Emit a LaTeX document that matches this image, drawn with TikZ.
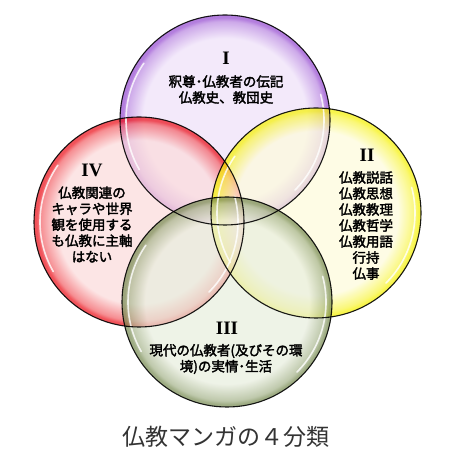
\documentclass[tikz,border=0pt]{standalone}
\usepackage{fontspec}
\newfontfamily\cjkb[FakeBold=2.4]{Noto Sans CJK JP}
\newfontfamily\cjkl{Noto Sans CJK JP}
\newfontfamily\romb{Liberation Serif}[BoldFont={Liberation Serif Bold}]
\definecolor{ptint}{HTML}{EEE0F9}
\definecolor{pedge}{HTML}{9448D0}
\definecolor{rtint}{HTML}{FCDBDB}
\definecolor{redge}{HTML}{EC0A14}
\definecolor{ytint}{HTML}{FEFCDB}
\definecolor{yedge}{HTML}{F6F200}
\definecolor{gtint}{HTML}{E8EEDE}
\definecolor{gedge}{HTML}{768A50}
\definecolor{titlegray}{HTML}{333333}
\pgfdeclareradialshading{gpurple}{\pgfpoint{0bp}{0bp}}{color(0bp)=(ptint); color(19.5bp)=(ptint); color(23.5bp)=(pedge!60!ptint); color(24.4bp)=(pedge); color(50bp)=(pedge)}
\pgfdeclareradialshading{gred}{\pgfpoint{0bp}{0bp}}{color(0bp)=(rtint); color(19.5bp)=(rtint); color(23.5bp)=(redge!60!rtint); color(24.4bp)=(redge); color(50bp)=(redge)}
\pgfdeclareradialshading{gyellow}{\pgfpoint{0bp}{0bp}}{color(0bp)=(ytint); color(19.5bp)=(ytint); color(23.5bp)=(yedge!70!ytint); color(24.4bp)=(yedge); color(50bp)=(yedge)}
\pgfdeclareradialshading{ggreen}{\pgfpoint{0bp}{0bp}}{color(0bp)=(gtint); color(19.5bp)=(gtint); color(23.5bp)=(gedge!60!gtint); color(24.4bp)=(gedge); color(50bp)=(gedge)}
\tikzset{
  glossy/.style={fill opacity=0.7},
  rim/.style={draw=black, line width=1.1pt, draw opacity=0.9},
  shine/.style={draw=white, line width=1.6pt, draw opacity=0.8, line cap=round},
  numeral/.style={font=\romb\bfseries\fontsize{19}{19}\selectfont, inner sep=0pt},
  body/.style={font=\cjkb\fontsize{13.5}{16}\selectfont, align=center, inner sep=0pt},
  titletext/.style={font=\cjkl\fontsize{23}{23}\selectfont, text=titlegray, inner sep=0pt}
}
\begin{document}
\begin{tikzpicture}[x=1pt,y=1pt]
\useasboundingbox (0,0) rectangle (453,462);
\fill[white] (0,0) rectangle (453,462);
\coordinate (P) at (225,342);
\coordinate (R) at (139,240);
\coordinate (Y) at (316,249);
\coordinate (G) at (227,160);
% glossy discs
\shade[shading=gpurple, glossy] (P) circle (105);
\shade[shading=gred, glossy] (R) circle (105);
\shade[shading=gyellow, glossy] (Y) circle (105);
\shade[shading=ggreen, glossy] (G) circle (105);
% highlights
\foreach \c in {P,R,Y,G}{
  \draw[shine] ([shift={(145:99)}]\c) arc (145:210:99);
  \draw[shine] ([shift={(-45:99)}]\c) arc (-45:15:99);
}
% outlines
\draw[rim] (P) circle (105);
\draw[rim] (R) circle (105);
\draw[rim] (Y) circle (105);
\draw[rim] (G) circle (105);
% labels
\node[numeral] (n1) at (226,404) {I};
\node[body] (t1) at (226,372.5) {釈尊･仏教者の伝記\\仏教史、教団史};
\node[numeral] (n2) at (367,307) {II};
\node[body] (t2) at (366,236.5) {仏教説話\\仏教思想\\仏教教理\\仏教哲学\\仏教用語\\行持\\仏事};
\node[numeral] (n3) at (227,134) {III};
\node[body] (t3) at (226,103) {現代の仏教者(及びその環\\境)の実情･生活};
\node[numeral] (n4) at (92,292) {IV};
\node[body] (t4) at (92,237.5) {仏教関連の\\キャラや世界\\観を使用する\\も仏教に主軸\\はない};
\node[titletext] (title) at (226,25) {仏教マンガの４分類};
\end{tikzpicture}
\end{document}
